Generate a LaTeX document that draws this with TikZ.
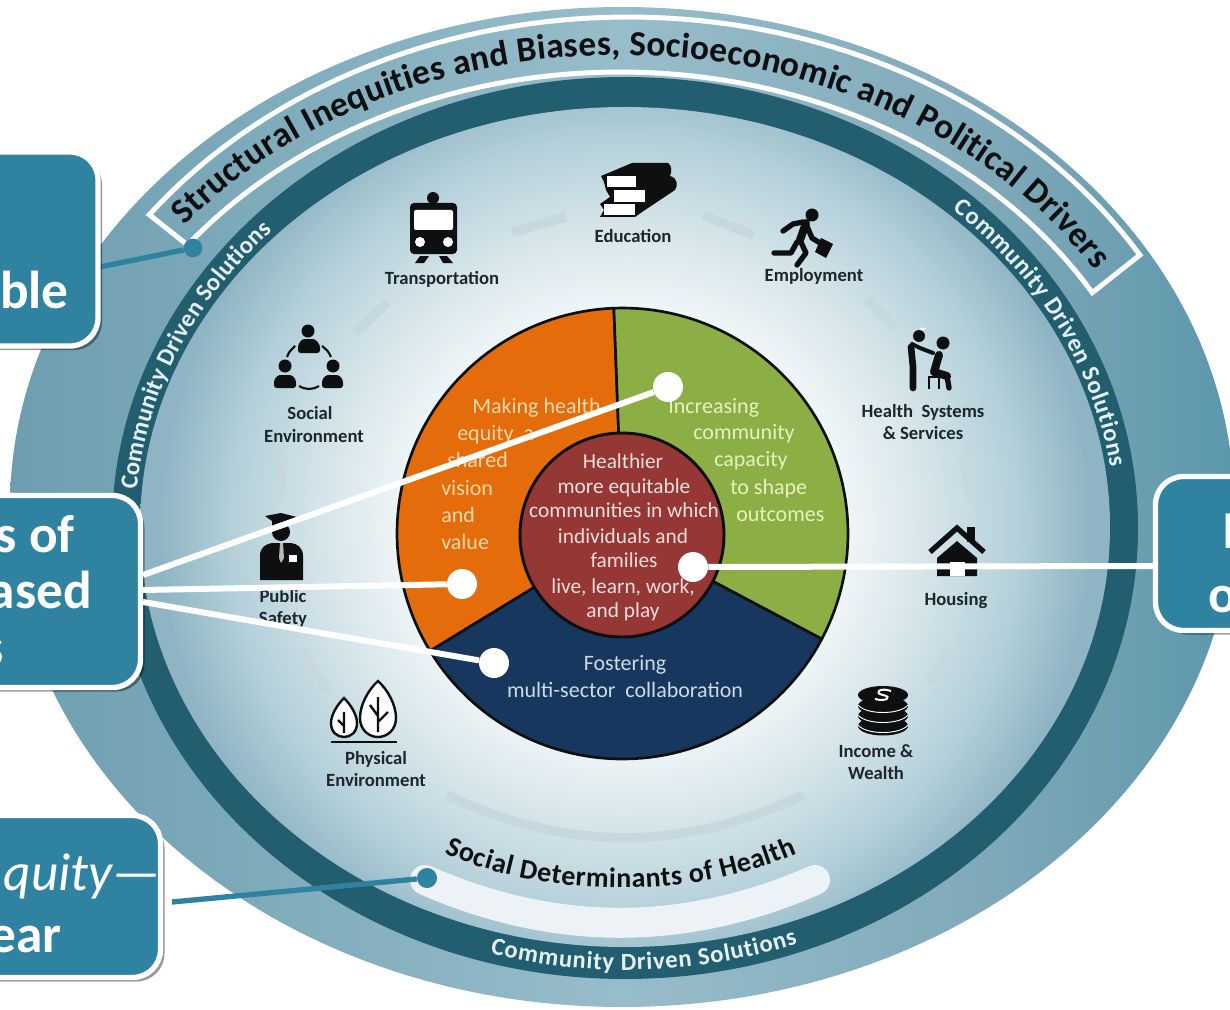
\documentclass[tikz,border=0pt]{standalone}
\usepackage{fontspec}
\setmainfont{Carlito}
\usetikzlibrary{decorations.text,shadows}
\definecolor{boxteal}{HTML}{2F83A0}
\definecolor{bandteal}{HTML}{225E6F}
\definecolor{bandtext}{HTML}{E4F1F4}
\definecolor{ringL}{HTML}{6D9EB0}
\definecolor{ringM}{HTML}{98BDCA}
\definecolor{ringQ}{HTML}{7FA9B9}
\definecolor{ringR}{HTML}{5C97AB}
\definecolor{g0}{HTML}{FFFFFF}
\definecolor{g1}{HTML}{F3F8F9}
\definecolor{g2}{HTML}{D6E5EA}
\definecolor{g3}{HTML}{B3CFD9}
\definecolor{g4}{HTML}{8FB5C4}
\definecolor{ink}{HTML}{0E0F10}
\definecolor{lbl}{HTML}{1D262C}
\definecolor{dashc}{HTML}{C6D7DD}
\definecolor{swoosh}{HTML}{ECF2F5}
\definecolor{pieO}{HTML}{E46C0A}
\definecolor{pieG}{HTML}{8BAF45}
\definecolor{pieN}{HTML}{17375E}
\definecolor{pieR}{HTML}{953735}
\definecolor{txtO}{HTML}{FAD9AE}
\definecolor{txtG}{HTML}{E6F2BC}
\definecolor{txtN}{HTML}{CFDAE6}
\definecolor{txtR}{HTML}{F5DEDE}
\pgfdeclareradialshading{innerglow}{\pgfpointorigin}{color(0bp)=(g0); color(7.7bp)=(g0); color(10.8bp)=(g1); color(15.6bp)=(g2); color(20.4bp)=(g3); color(24bp)=(g4); color(50bp)=(g4)}
\pgfdeclarehorizontalshading{ringband}{100bp}{color(0bp)=(ringL); color(25bp)=(ringL); color(50bp)=(ringM); color(65bp)=(ringQ); color(75bp)=(ringR); color(100bp)=(ringR)}
\tikzset{
  cbox/.style={draw=white,line width=4pt,fill=boxteal,rounded corners=21pt,inner sep=0pt,
    drop shadow={shadow xshift=3pt,shadow yshift=-3pt,opacity=.4,fill=black}},
  boxbold/.style={text=white,inner sep=0pt,font=\fontsize{40}{40}\selectfont\bfseries},
  boxital/.style={text=white,inner sep=0pt,font=\fontsize{40}{40}\selectfont\itshape},
  wline/.style={draw=white,line width=4.5pt},
  tline/.style={draw=boxteal,line width=4pt},
  wdot/.style={circle,fill=white,minimum size=22.5pt,inner sep=0pt},
  tdot/.style={circle,fill=boxteal,minimum size=14pt,inner sep=0pt},
  icolbl/.style={text=lbl,inner sep=0pt,anchor=base,font=\fontsize{14}{18}\selectfont\bfseries},
  pietxt/.style={inner sep=0pt,font=\fontsize{16.5}{20}\selectfont},
  redtxt/.style={inner sep=0pt,font=\fontsize{16}{20}\selectfont},
  ringdash/.style={draw=dashc,line width=7pt},
  frame/.style={draw=white,line width=3.75pt,line join=miter}
}
\begin{document}
\begin{tikzpicture}[x=.75pt,y=-.75pt]
\useasboundingbox (0,0) rectangle (1230,1009);
\clip (0,0) rectangle (1230,1009);
% outer ring
\shade[shading=ringband] (622,507) ellipse [x radius=612,y radius=500];
% dark band and inner disc
\fill[bandteal] (625,528) ellipse [x radius=513,y radius=451];
\begin{scope}
\clip (625,527) ellipse [x radius=485,y radius=420];
\shade[shading=innerglow] (140,47) rectangle (1110,1007);
\end{scope}
% frame of heading
\draw[frame] plot[domain=142.8:31.6,samples=70] ({628+601*cos(\x)},{517-500*sin(\x)})
   -- plot[domain=31:141.7,samples=70] ({620+551*cos(\x)},{527-455*sin(\x)}) -- cycle;
% curved heading
\path[decorate,decoration={text along path,text align={fit to path},
   text={|\fontsize{26.5}{26.5}\selectfont\bfseries\color{ink}|Structural Inequities and Biases, Socioeconomic and Political Drivers}}]
   plot[domain=140.4:32.8,samples=70] ({620+565*cos(\x)},{525-470*sin(\x)});
% band texts
\path[decorate,decoration={text along path,text align={fit to path},
   text={|\fontsize{18.5}{18.5}\selectfont\bfseries\color{bandtext}|Community Driven Solutions}}]
   plot[domain=175:136,samples=40] ({625+490*cos(\x)},{527-427*sin(\x)});
\path[decorate,decoration={text along path,text align={fit to path},
   text={|\fontsize{18.5}{18.5}\selectfont\bfseries\color{bandtext}|Community Driven Solutions}}]
   plot[domain=48:8,samples=40] ({625+490*cos(\x)},{527-427*sin(\x)});
\path[decorate,decoration={text along path,text align={fit to path},
   text={|\fontsize{18.5}{18.5}\selectfont\bfseries\color{bandtext}|Community Driven Solutions}}]
   plot[domain=254.5:290,samples=40] ({625+505*cos(\x)},{527-443*sin(\x)});
% social determinants
\draw[ringdash] (447,795) .. controls (566,852) and (684,852) .. (803,795);
\draw[draw=swoosh,line width=22.5pt,line cap=round] (425,880) .. controls (555,937) and (685,937) .. (815,880);
\path[decorate,decoration={text along path,text align={fit to path},
   text={|\fontsize{21}{21}\selectfont\bfseries\color{ink}|Social Determinants of Health}}]
   plot[domain=234:306,samples=50] ({621+300*cos(\x)},{707-181*sin(\x)});
% ring of dashes
\draw[ringdash] (512,232) -- (566,217);
\draw[ringdash] (703,215) -- (753,235);
\draw[ringdash] (867,300) -- (895,327);
\draw[ringdash] (963,455) -- (972,502);
\draw[ringdash] (950,650) -- (930,683);
\draw[ringdash] (303,650) -- (327,692);
\draw[ringdash] (282,458) -- (280,498);
\draw[ringdash] (388,302) -- (355,333);
% train
\fill[ink,rounded corners=3pt] (410,203) rectangle (457,254);
\fill[ink] (433,198) circle [radius=6];
\fill[white,rounded corners=1.5pt] (414,210) rectangle (453,230);
\fill[white] (420,242) circle [radius=5];
\fill[white] (448,242) circle [radius=5];
\fill[ink] (420,256) -- (429,256) -- (424,263) -- (415,263) -- cycle;
\fill[ink] (439,256) -- (447,256) -- (453,263) -- (443,263) -- cycle;
% books
\fill[ink] (601,176) -- (632,163) -- (668,163) .. controls (672,165) and (672,172) .. (670,176) .. controls (678,178) and (678,186) .. (675,190) -- (642,212) -- (635,217) -- (600,217) -- (604,210) -- (600,204) -- (610,197) -- (606,190) -- (604,182) -- cycle;
\fill[white] (607,176) rectangle (636,187);
\fill[white] (614,190) rectangle (645,202);
\fill[white] (604,204) rectangle (635,215);
% runner
\fill[ink] (812,215) circle [radius=6.5];
\draw[ink,line width=4pt,line cap=round,line join=round] (803,222) -- (793,224) -- (783,231);
\draw[ink,line width=6pt,line cap=round,line join=round] (806,223) -- (800,240);
\draw[ink,line width=4pt,line cap=round,line join=round] (806,224) -- (812,238) -- (820,243);
\draw[ink,line width=4pt,line cap=round,line join=round] (800,240) -- (806,253) -- (797,265);
\draw[ink,line width=4pt,line cap=round,line join=round] (797,242) -- (791,253) -- (774,253);
\fill[ink] (821,238) -- (833,244) -- (826,258) -- (815,252) -- cycle;
% doctor and patient
\fill[ink] (919,336) circle [radius=6];
\fill[white] (923,329) ellipse [x radius=3,y radius=1.5];
\draw[ink,line width=5pt,line cap=round,line join=round] (911,347) -- (913,367) -- (913,388);
\draw[ink,line width=3pt,line cap=round,line join=round] (912,344) -- (920,348) -- (933,353);
\fill[ink] (943,343) circle [radius=6.5];
\draw[ink,line width=6pt,line cap=round,line join=round] (939,355) -- (934,372) -- (947,376);
\draw[ink,line width=4pt,line cap=round,line join=round] (947,376) -- (949,388);
\draw[ink,line width=1.5pt] (929,389) -- (929,377) -- (939,377) -- (939,389);
% house
\fill[ink] (957,541) -- (977,558) -- (977,576) -- (937,576) -- (937,558) -- cycle;
\fill[white] (950,562) rectangle (965,576);
\fill[ink] (967,527) rectangle (975,542);
\draw[ink,line width=4pt] (930,552) -- (957,528) -- (984,552);
% coins
\foreach \yy in {726,716,706}{
  \fill[ink] (883,\yy) ellipse [x radius=25,y radius=9.5];
  \draw[white,line width=.7pt] (858,\yy-1) .. controls (866,\yy+9) and (900,\yy+9) .. (908,\yy-1);
}
\fill[ink] (883,695) ellipse [x radius=25,y radius=9];
\draw[white,line width=1.5pt] (891,691) .. controls (880,687) and (873,693) .. (883,695) .. controls (893,697) and (886,702) .. (875,699);
% leaves
\draw[ink,fill=white!90!g2,line width=1.8pt] (378,681) .. controls (388,690) and (396,705) .. (396,718) .. controls (396,730) and (387,737) .. (378,737) .. controls (369,737) and (360,730) .. (360,718) .. controls (360,705) and (368,690) .. (378,681) -- cycle;
\draw[ink,line width=1.8pt] (378,697) -- (378,732) (370,705) -- (378,716) (388,712) -- (378,722);
\draw[ink,fill=white!90!g2,line width=1.8pt] (344,698) .. controls (351,705) and (357,715) .. (357,723) .. controls (357,732) and (351,737) .. (344,737) .. controls (337,737) and (331,732) .. (331,723) .. controls (331,715) and (337,705) .. (344,698) -- cycle;
\draw[ink,line width=1.8pt] (344,712) -- (344,733) (338,720) -- (344,726);
\draw[ink,line width=2.2pt] (331,742) -- (397,742);
% officer
\fill[ink] (265,516) -- (281,513) -- (297,517) -- (288,521) -- (288,526) -- (272,526) -- (272,521) -- cycle;
\fill[ink] (281,532) circle [radius=9];
\fill[ink] (260,580) -- (260,556) .. controls (260,547) and (266,544) .. (272,543) -- (291,543) .. controls (297,544) and (303,547) .. (303,556) -- (303,580) -- cycle;
\fill[white!70!ink] (280,543) -- (283,543) -- (284,558) -- (281,563) -- (279,558) -- cycle;
\fill[white] (289,555) rectangle (297,562);
% social group
\fill[ink] (308,331) circle [radius=6.5];
\fill[ink,rounded corners=2pt] (298,353) -- (298,345) -- (302,339) -- (315,339) -- (320,345) -- (320,353) -- cycle;
\fill[ink] (285,366) circle [radius=6.5];
\fill[ink,rounded corners=2pt] (274,388) -- (274,380) -- (278,375) -- (292,375) -- (296,380) -- (296,388) -- cycle;
\fill[ink] (333,366) circle [radius=6.5];
\fill[ink,rounded corners=2pt] (322,388) -- (322,380) -- (326,375) -- (339,375) -- (343,380) -- (343,388) -- cycle;
\draw[ink,line width=1.6pt] (287,357) .. controls (289,352) .. (295,346);
\draw[ink,line width=1.6pt] (322,346) .. controls (328,351) .. (331,357);
\draw[ink,line width=1.6pt] (299,386) .. controls (306,390) and (312,390) .. (319,386);
% icon labels
\node[icolbl] (lTrans) at (442,284) {Transportation};
\node[icolbl] (lEdu) at (633,243) {Education};
\node[icolbl] (lEmp) at (814,281) {Employment};
\node[icolbl] (lHealthA) at (923,417) {Health\ \ Systems};
\node[icolbl] (lHealthB) at (923,439) {\& Services};
\node[icolbl] (lHouse) at (956,605) {Housing};
\node[icolbl] (lIncA) at (876,757) {Income \&};
\node[icolbl] (lIncB) at (876,779) {Wealth};
\node[icolbl] (lPhyA) at (376,764) {Physical};
\node[icolbl] (lPhyB) at (376,786) {Environment};
\node[icolbl] (lPubA) at (283,602) {Public};
\node[icolbl] (lPubB) at (283,624) {Safety};
\node[icolbl] (lSocA) at (310,419) {Social};
\node[icolbl] (lSocB) at (314,442) {Environment};
% pie
\filldraw[fill=pieO,draw=ink,line width=2pt,line join=round] (622.5,533.5) -- plot[domain=148.6:267.8,samples=60] ({622.5+225.5*cos(\x)},{533.5+225.5*sin(\x)}) -- cycle;
\filldraw[fill=pieG,draw=ink,line width=2pt,line join=round] (622.5,533.5) -- plot[domain=267.8:387.9,samples=60] ({622.5+225.5*cos(\x)},{533.5+225.5*sin(\x)}) -- cycle;
\filldraw[fill=pieN,draw=ink,line width=2pt,line join=round] (622.5,533.5) -- plot[domain=27.9:148.6,samples=60] ({622.5+225.5*cos(\x)},{533.5+225.5*sin(\x)}) -- cycle;
\filldraw[fill=pieR,draw=ink,line width=2.2pt] (622,535) circle [radius=102];
% pie text
\begin{scope}[every node/.append style={pietxt,text=txtO,anchor=base west}]
\node (o1) at (472,413) {Making health};
\node (o2) at (457,440) {equity\ \ a};
\node (o3) at (447,467) {shared};
\node (o4) at (441,495) {vision};
\node (o5) at (441,522) {and};
\node (o6) at (441,549) {value};
\end{scope}
\begin{scope}[every node/.append style={pietxt,text=txtG,anchor=base west}]
\node (g1n) at (668,413) {Increasing};
\node (g2n) at (693,439) {community};
\node (g3n) at (714,466) {capacity};
\node (g4n) at (730,494) {to shape};
\node (g5n) at (736,521) {outcomes};
\end{scope}
\begin{scope}[every node/.append style={redtxt,text=txtR,anchor=base}]
\node (r1) at (623,468) {Healthier};
\node (r2) at (624,493) {more equitable};
\node (r3) at (624,517) {communities in which};
\node (r4) at (623,543) {individuals and};
\node (r5) at (624,567) {families};
\node (r6) at (623,593) {live, learn, work,};
\node (r7) at (623,617) {and play};
\end{scope}
\begin{scope}[every node/.append style={pietxt,text=txtN,anchor=base}]
\node (n1) at (625,670) {Fostering};
\node (n2) at (625,697) {multi-sector\ \ collaboration};
\end{scope}
% dots
\node[wdot] (dA) at (668,387) {};
\node[wdot] (dB) at (462,584) {};
\node[wdot] (dC) at (494,663) {};
\node[wdot] (dD) at (693,567) {};
\node[tdot] (dE) at (193,248) {};
\node[tdot,minimum size=15pt] (dF) at (427,878) {};
% callouts
\coordinate (p1) at (95,268);
\coordinate (p3) at (172,902);
\draw[tline] (p1) -- (dE);
\draw[tline] (p3) -- (dF);
\node[cbox,minimum width=147pt,minimum height=145.5pt] (box1) at (0,249) {};
\node[cbox,minimum width=210.75pt,minimum height=144pt] (box2) at (0,591.5) {};
\node[cbox,minimum width=240.75pt,minimum height=121.5pt] (box3) at (0,896.5) {};
\node[cbox,minimum width=366.75pt,minimum height=115.5pt] (box4) at (1400,553.5) {};
\coordinate (q1) at (143,575);
\coordinate (q2) at (143,590);
\coordinate (q3) at (143,602);
\coordinate (q4) at (1153,566);
\draw[wline] (q1) -- (dA);
\draw[wline] (q2) -- (dB);
\draw[wline] (q3) -- (dC);
\draw[wline] (q4) -- (dD);
% callout text
\node[boxbold,anchor=base east] (t1) at (69,308) {ble};
\node[boxbold,anchor=base east] (t2) at (75,552) {s of};
\node[boxbold,anchor=base east] (t3) at (92,608) {ased};
\node[boxbold,anchor=base east] (t4) at (4,665) {s};
\node[boxital,anchor=base east] (t5) at (161,890) {quity—};
\node[boxbold,anchor=base east] (t6) at (62,952) {ear};
\node[boxbold,anchor=base west] (t7) at (1222,548) {I};
\node[boxbold,anchor=base west] (t8) at (1208,612) {o};
\end{tikzpicture}
\end{document}
